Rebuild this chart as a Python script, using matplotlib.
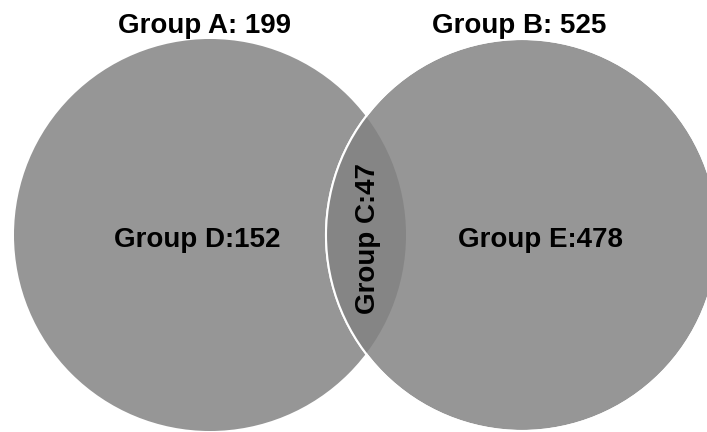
import matplotlib.pyplot as plt
from matplotlib.patches import Circle

# counts for each set and region
set_names = ['Group A', 'Group B']
set_totals = [199, 525]
region_names = ['Group D', 'Group C', 'Group E']
region_counts = [152, 47, 478]

plt.rcParams['font.family'] = ['Liberation Sans', 'DejaVu Sans']

fig = plt.figure(figsize=(7.07, 4.32), dpi=100)
ax = fig.add_axes([0, 0, 1, 1])
ax.set_xlim(0, 707)
ax.set_ylim(432, 0)
ax.set_aspect('equal')
ax.axis('off')

# layout (pixels)
r = 196
cy = 235
cx_left, cx_right = 210, 522

left = Circle((cx_left, cy), r, facecolor='#969696', edgecolor='none')
right = Circle((cx_right, cy), r, facecolor='#969696', edgecolor='white', lw=1.5, zorder=2)
ax.add_patch(left)
ax.add_patch(right)

# overlap: copy of left circle clipped to right circle, darker
lens = Circle((cx_left, cy), r, facecolor='#858585', edgecolor='none', zorder=3)
ax.add_patch(lens)
clip = Circle((cx_right, cy), r, transform=ax.transData)
lens.set_clip_path(clip)
# white edge of right circle drawn over the lens
edge = Circle((cx_right, cy), r, facecolor='none', edgecolor='white', lw=1.5, zorder=4)
ax.add_patch(edge)

fs = 20
ax.text(204, 33, f'{set_names[0]}: {set_totals[0]}', ha='center', va='baseline',
        fontsize=fs, fontweight='bold')
ax.text(519, 33, f'{set_names[1]}: {set_totals[1]}', ha='center', va='baseline',
        fontsize=fs, fontweight='bold')

ax.text(197, 247, f'{region_names[0]}:{region_counts[0]}', ha='center', va='baseline',
        fontsize=fs, fontweight='bold', zorder=5)
ax.text(375, 239, f'{region_names[1]}:{region_counts[1]}', ha='center', va='baseline',
        fontsize=fs, fontweight='bold', rotation=90, rotation_mode='anchor', zorder=5)
ax.text(541, 247, f'{region_names[2]}:{region_counts[2]}', ha='center', va='baseline',
        fontsize=fs, fontweight='bold', zorder=5)

fig.savefig('out.png', dpi=100)
